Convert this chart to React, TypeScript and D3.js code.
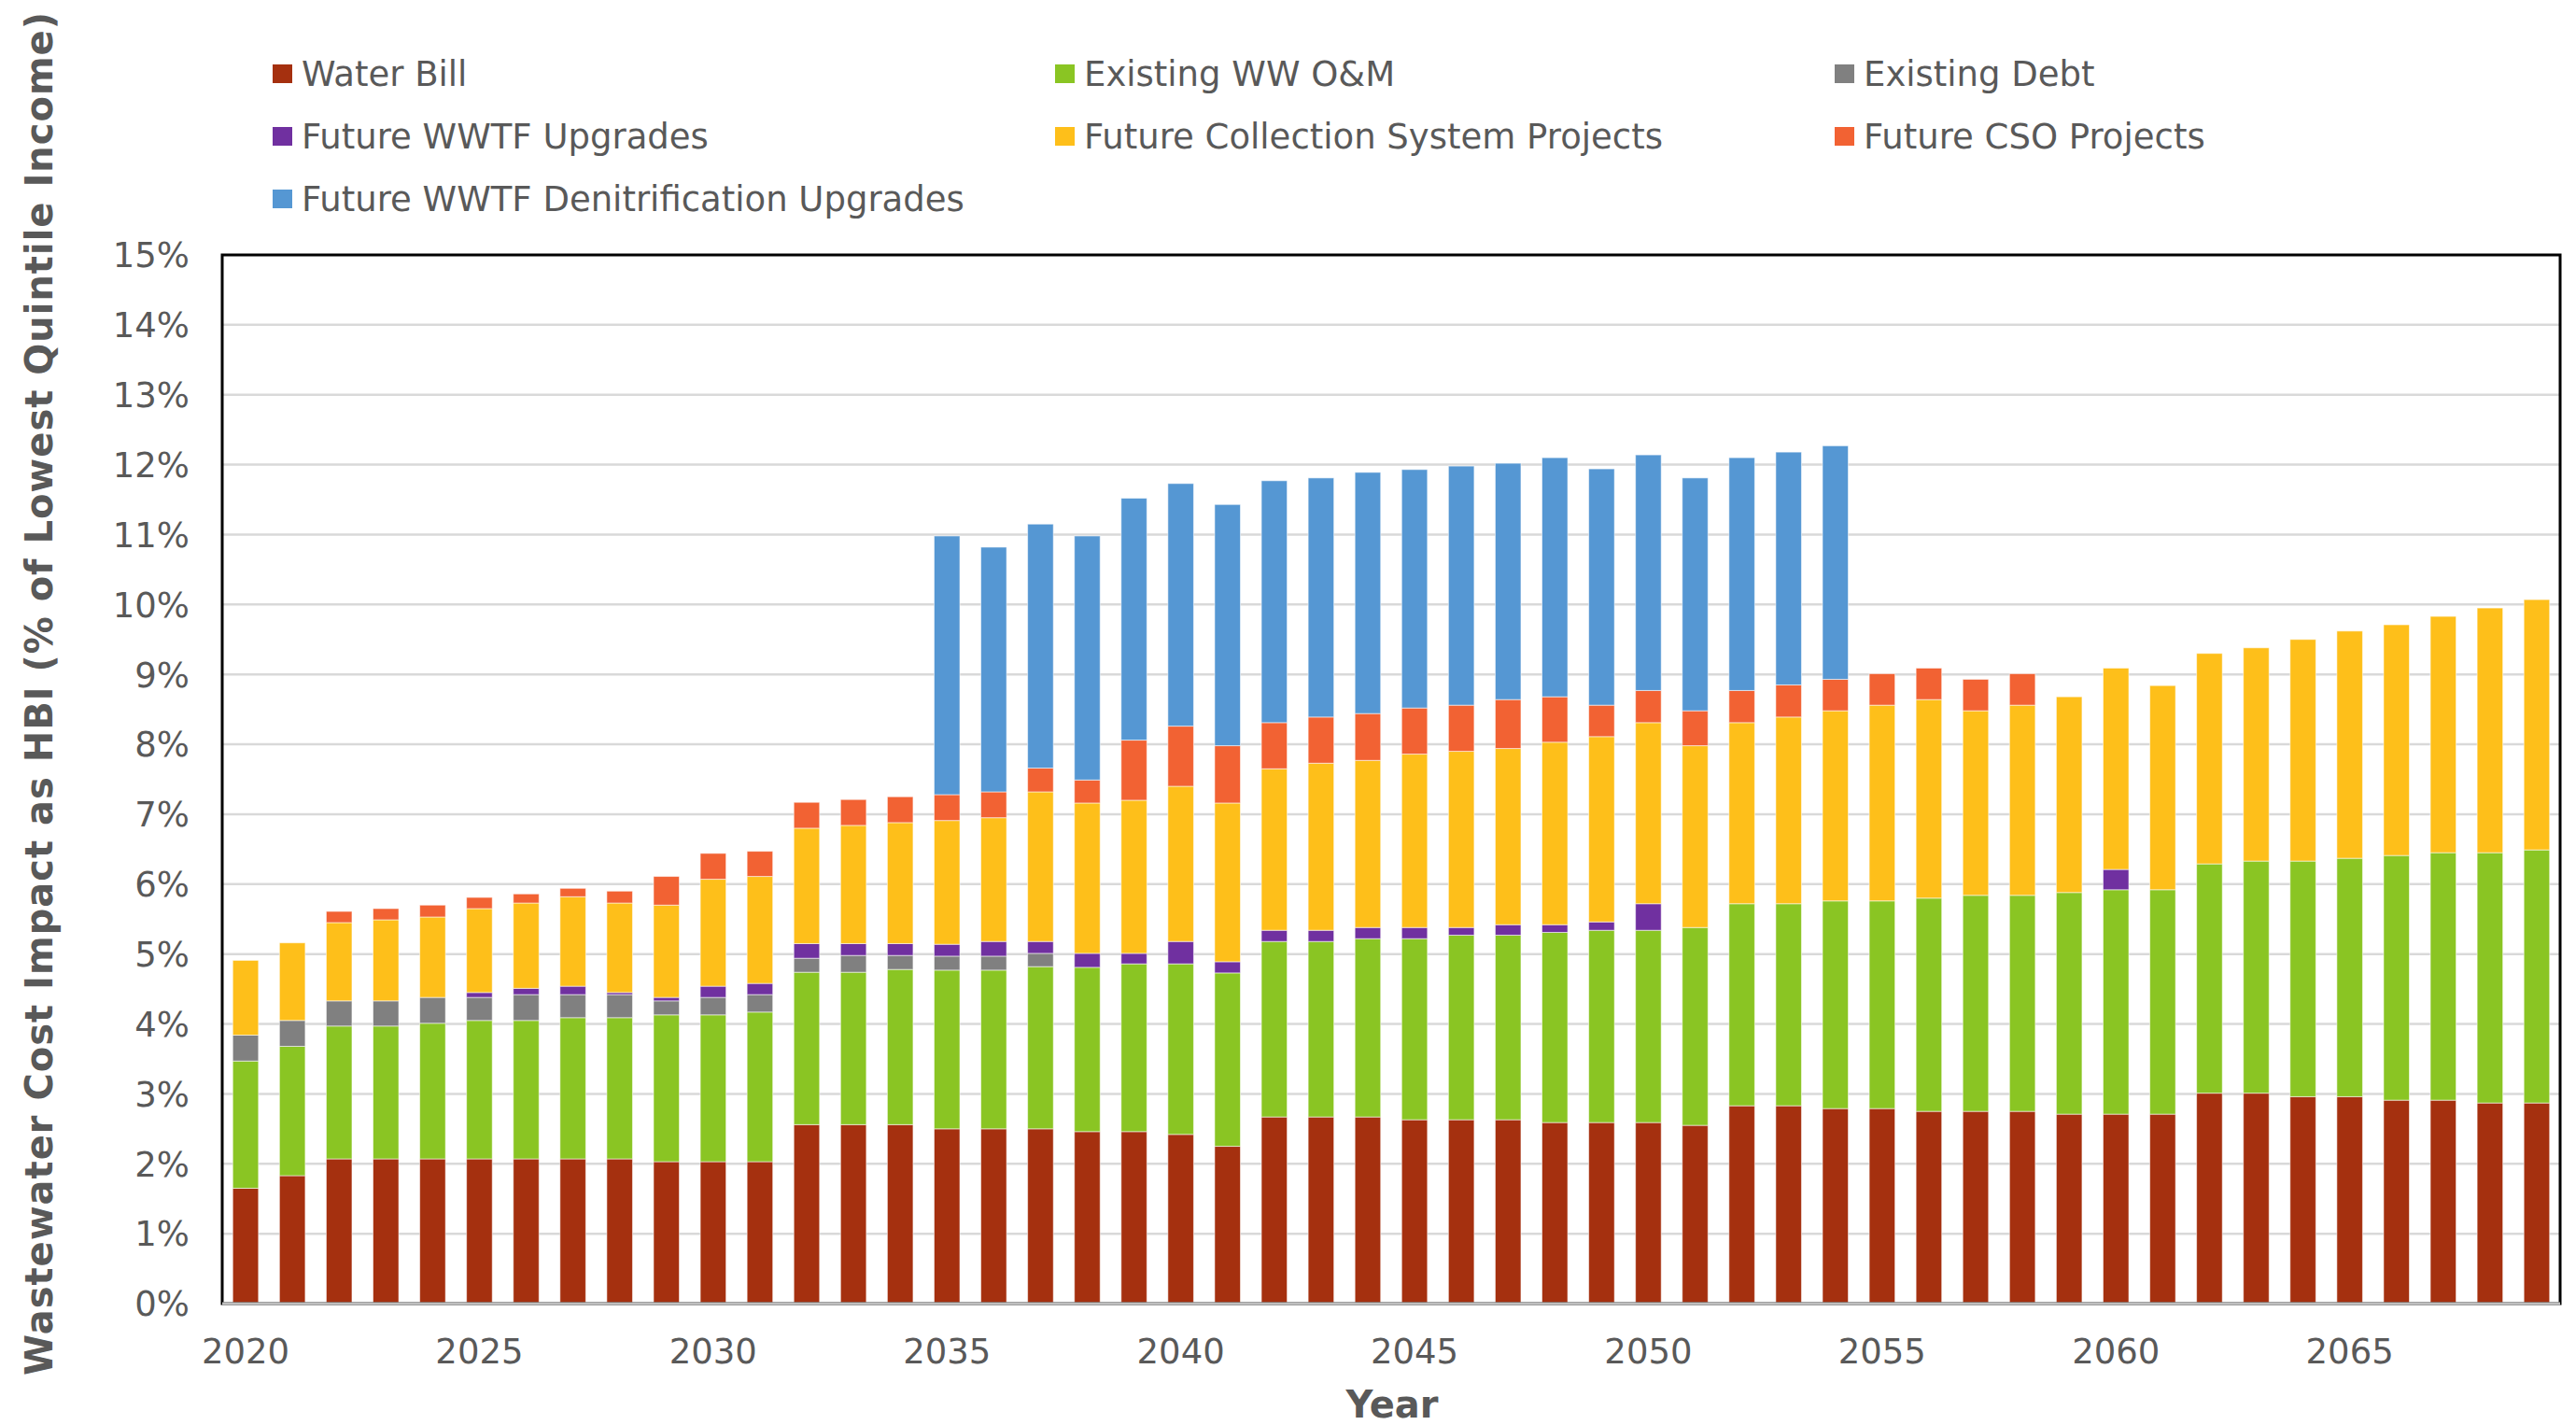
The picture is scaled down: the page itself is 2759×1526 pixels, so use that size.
import * as d3 from 'd3'

// values, percent of lowest quintile income, 2020..2069
const years = d3.range(2020, 2070)

const seriesNames = [
    'Water Bill',
    'Existing WW O&M',
    'Existing Debt',
    'Future WWTF Upgrades',
    'Future Collection System Projects',
    'Future CSO Projects',
    'Future WWTF Denitrification Upgrades',
]

const seriesColors = ['#A5300F', '#8AC523', '#808080', '#7030A0', '#FEBF1A', '#F26233', '#5597D3']

const waterBill = [1.65, 1.83, 2.07, 2.07, 2.07, 2.07, 2.07, 2.07, 2.07, 2.03,
    2.03, 2.03, 2.56, 2.56, 2.56, 2.50, 2.50, 2.50, 2.46, 2.46,
    2.42, 2.25, 2.67, 2.67, 2.67, 2.63, 2.63, 2.63, 2.59, 2.59,
    2.59, 2.55, 2.83, 2.83, 2.79, 2.79, 2.75, 2.75, 2.75, 2.71,
    2.71, 2.71, 3.01, 3.01, 2.96, 2.96, 2.91, 2.91, 2.87, 2.87]

const existingOM = [1.82, 1.85, 1.90, 1.90, 1.94, 1.98, 1.98, 2.02, 2.02, 2.10,
    2.10, 2.14, 2.18, 2.18, 2.22, 2.27, 2.27, 2.32, 2.35, 2.40,
    2.44, 2.48, 2.51, 2.51, 2.55, 2.59, 2.64, 2.64, 2.72, 2.75,
    2.75, 2.83, 2.89, 2.89, 2.97, 2.97, 3.05, 3.09, 3.09, 3.17,
    3.21, 3.21, 3.28, 3.32, 3.37, 3.41, 3.50, 3.54, 3.58, 3.62]

const existingDebt = [0.37, 0.37, 0.36, 0.36, 0.37, 0.33, 0.37, 0.33, 0.33, 0.20,
    0.25, 0.25, 0.20, 0.24, 0.20, 0.20, 0.20, 0.19, 0, 0,
    0, 0, 0, 0, 0, 0, 0, 0, 0, 0,
    0, 0, 0, 0, 0, 0, 0, 0, 0, 0,
    0, 0, 0, 0, 0, 0, 0, 0, 0, 0]

const wwtfUpgrades = [0, 0, 0, 0, 0, 0.07, 0.09, 0.12, 0.03, 0.05,
    0.16, 0.16, 0.21, 0.17, 0.17, 0.17, 0.21, 0.17, 0.20, 0.15,
    0.32, 0.16, 0.16, 0.16, 0.16, 0.16, 0.11, 0.15, 0.11, 0.12,
    0.38, 0, 0, 0, 0, 0, 0, 0, 0, 0,
    0.29, 0, 0, 0, 0, 0, 0, 0, 0, 0]

const collection = [1.07, 1.11, 1.12, 1.16, 1.15, 1.20, 1.22, 1.28, 1.28, 1.32,
    1.53, 1.53, 1.65, 1.69, 1.73, 1.77, 1.77, 2.14, 2.15, 2.19,
    2.22, 2.27, 2.31, 2.39, 2.39, 2.48, 2.52, 2.52, 2.61, 2.65,
    2.59, 2.60, 2.59, 2.67, 2.72, 2.80, 2.84, 2.64, 2.72, 2.80,
    2.88, 2.92, 3.01, 3.05, 3.17, 3.25, 3.30, 3.38, 3.50, 3.58]

const cso = [0, 0, 0.16, 0.16, 0.17, 0.16, 0.13, 0.12, 0.17, 0.41,
    0.37, 0.36, 0.37, 0.37, 0.37, 0.37, 0.37, 0.34, 0.33, 0.86,
    0.86, 0.82, 0.66, 0.66, 0.67, 0.66, 0.66, 0.70, 0.65, 0.45,
    0.46, 0.50, 0.46, 0.46, 0.45, 0.45, 0.45, 0.45, 0.45, 0,
    0, 0, 0, 0, 0, 0, 0, 0, 0, 0]

const denitrification = [0, 0, 0, 0, 0, 0, 0, 0, 0, 0,
    0, 0, 0, 0, 0, 3.70, 3.50, 3.49, 3.49, 3.46,
    3.47, 3.45, 3.46, 3.42, 3.45, 3.41, 3.42, 3.38, 3.42, 3.38,
    3.37, 3.33, 3.33, 3.33, 3.34, 0, 0, 0, 0, 0,
    0, 0, 0, 0, 0, 0, 0, 0, 0, 0]

const yTicks = d3.range(0, 16)
const xTicks = [2020, 2025, 2030, 2035, 2040, 2045, 2050, 2055, 2060, 2065]

const W = 2759
const H = 1526
const margin = { top: 273, right: 17, bottom: 130, left: 238 }
const textColor = '#595959'
const font = '"DejaVu Sans", Verdana, sans-serif'

export default function App() {
    const allSeries = [waterBill, existingOM, existingDebt, wwtfUpgrades, collection, cso, denitrification]
    const rows = years.map((year, i) => {
        const row: Record<string, number> = { year }
        seriesNames.forEach((name, s) => { row[name] = allSeries[s][i] })
        return row
    })
    const stacked = d3.stack<Record<string, number>>().keys(seriesNames)(rows)

    const x = d3.scaleBand<number>()
        .domain(years)
        .range([margin.left, W - margin.right])
        .paddingInner(0.45)
        .paddingOuter(0.225)
    const y = d3.scaleLinear()
        .domain([0, 15])
        .range([H - margin.bottom, margin.top])

    const plotW = W - margin.right - margin.left
    const plotH = H - margin.bottom - margin.top

    const legendCols = [292, 1130, 1965]
    const legendRows = [79, 146, 213]

    return (
        <div style={{ position: 'absolute', left: 0, top: 0 }}>
            <svg width={W} height={H} style={{ display: 'block', background: '#fff' }} fontFamily={font}>
                {/* gridlines */}
                {yTicks.filter(t => t > 0 && t < 15).map(t => (
                    <line key={t} x1={margin.left} x2={W - margin.right} y1={y(t)} y2={y(t)}
                        stroke="#d9d9d9" strokeWidth={2.5} />
                ))}

                {/* stacked bars */}
                {stacked.map((layer, s) => (
                    <g key={layer.key} fill={seriesColors[s]}>
                        {layer.map((d, i) => {
                            const h = y(d[0]) - y(d[1])
                            if (h <= 0) return null
                            return (
                                <rect key={i} x={x(years[i])} width={x.bandwidth()}
                                    y={y(d[1])} height={h}
                                    stroke="#ffffff" strokeWidth={1} strokeOpacity={0.55} />
                            )
                        })}
                    </g>
                ))}

                {/* plot border and axis */}
                <rect x={margin.left} y={margin.top} width={plotW} height={plotH}
                    fill="none" stroke="#000" strokeWidth={3} />
                <line x1={margin.left} x2={W - margin.right} y1={y(0)} y2={y(0)}
                    stroke="#bfbfbf" strokeWidth={3} />

                {/* y ticks */}
                {yTicks.map(t => (
                    <text key={t} x={203} y={y(t)} dy="0.36em" textAnchor="end"
                        fontSize={37} fill={textColor}>{t}%</text>
                ))}

                {/* x ticks */}
                {xTicks.map(t => (
                    <text key={t} x={(x(t) ?? 0) + x.bandwidth() / 2} y={1460} textAnchor="middle"
                        fontSize={37} fill={textColor}>{t}</text>
                ))}

                <text x={1491} y={1518} textAnchor="middle" fontSize={40} fontWeight="bold"
                    fill={textColor}>Year</text>

                <text transform="translate(56, 743) rotate(-90)" textAnchor="middle"
                    fontSize={40} fontWeight="bold" fill={textColor}
                    textLength={1460} lengthAdjust="spacing">
                    Wastewater Cost Impact as HBI (% of Lowest Quintile Income)
                </text>

                {/* legend */}
                {seriesNames.map((name, s) => {
                    const cx = legendCols[s % 3]
                    const cy = legendRows[Math.floor(s / 3)]
                    return (
                        <g key={name}>
                            <rect x={cx} y={cy - 10} width={21} height={20} fill={seriesColors[s]} />
                            <text x={cx + 31} y={cy} dy="0.36em" fontSize={37} fill={textColor}>{name}</text>
                        </g>
                    )
                })}
            </svg>
        </div>
    )
}
